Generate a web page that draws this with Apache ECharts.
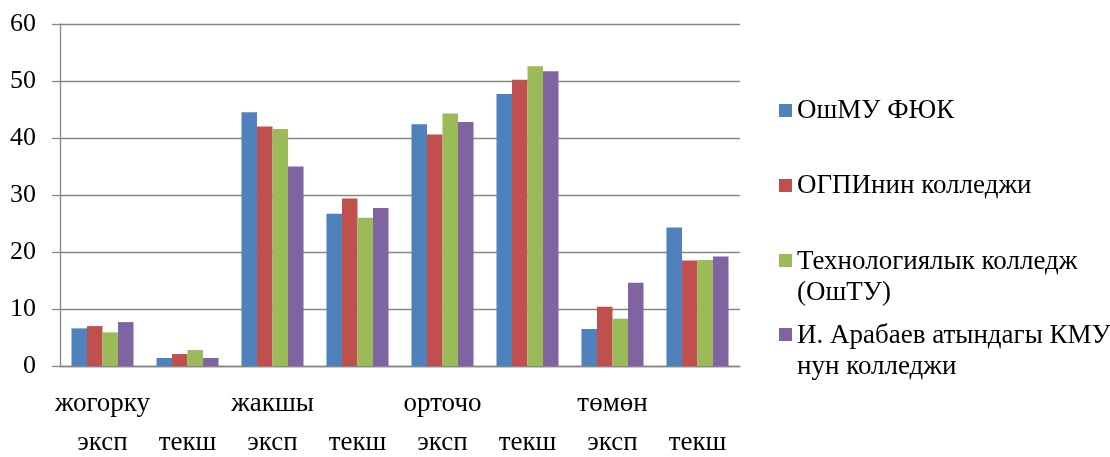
<!DOCTYPE html>
<html>
<head>
<meta charset="utf-8">
<script src="https://cdn.jsdelivr.net/npm/echarts@6/dist/echarts.min.js"></script>
<style>
html,body{margin:0;padding:0;background:#fff;}
#chart{width:1110px;height:457px;}
</style>
</head>
<body>
<div id="chart"></div>
<script>
const categories = ['эксп','текш','эксп','текш','эксп','текш','эксп','текш'];
const groupLabels = ['жогорку','','жакшы','','орточо','','төмөн',''];
const seriesNames = ['ОшМУ ФЮК','ОГПИнин колледжи','Технологиялык колледж\n(ОшТУ)','И. Арабаев атындагы КМУ\nнун колледжи'];
const oshmu = [6.6, 1.4, 44.5, 26.7, 42.4, 47.7, 6.5, 24.3];
const ogpi = [7.0, 2.1, 42.0, 29.4, 40.6, 50.2, 10.4, 18.5];
const tech = [5.9, 2.8, 41.6, 26.0, 44.3, 52.6, 8.3, 18.6];
const arabaev = [7.7, 1.4, 35.0, 27.7, 42.8, 51.7, 14.6, 19.2];
const yTicks = [0, 10, 20, 30, 40, 50, 60];

const colors = ['#4F81BD','#C0504D','#9BBB59','#8064A2'];
const font = 'Liberation Serif, Times New Roman, serif';
const values = [oshmu, ogpi, tech, arabaev];

const chart = echarts.init(document.getElementById('chart'), null, {renderer:'canvas'});

const legendTops = [90, 165, 241, 315];
const twoLineIcon = 'path://M0,0h13v13h-13z M0,46h0.01v0.01h-0.01z';
const legends = seriesNames.map((n, i) => ({
  orient: 'vertical',
  left: 774,
  top: legendTops[i],
  itemWidth: 13,
  itemHeight: n.indexOf('\n') >= 0 ? 46 : 13,
  itemGap: 0,
  data: [{name: n, icon: n.indexOf('\n') >= 0 ? twoLineIcon : 'rect'}],
  textStyle: {fontFamily: font, fontSize: 27, color: '#000', lineHeight: 31, padding: [0,0,0,0]},
  selectedMode: false
}));

chart.setOption({
  animation: false,
  color: colors,
  grid: {left: 60, right: 370, top: 24, bottom: 91, containLabel: false},
  legend: legends,
  xAxis: [
    {
      type: 'category',
      data: categories,
      axisLine: {show: true, lineStyle: {color: '#868686', width: 1.3}},
      axisTick: {show: false},
      axisLabel: {fontFamily: font, fontSize: 27, color: '#000', margin: 63, interval: 0}
    },
    {
      type: 'category',
      data: groupLabels,
      position: 'bottom',
      axisLine: {show: false},
      axisTick: {show: false},
      axisLabel: {fontFamily: font, fontSize: 27, color: '#000', margin: 24, interval: 0}
    }
  ],
  yAxis: {
    type: 'value',
    min: yTicks[0],
    max: yTicks[yTicks.length - 1],
    interval: 10,
    axisLine: {show: true, lineStyle: {color: '#868686', width: 1.3}},
    axisTick: {show: true, length: 8, lineStyle: {color: '#868686', width: 1.3}},
    splitLine: {show: true, lineStyle: {color: '#868686', width: 1.3}},
    axisLabel: {fontFamily: font, fontSize: 26, color: '#000', margin: 24}
  },
  series: seriesNames.map((n, i) => ({
    name: n,
    type: 'bar',
    data: values[i],
    barGap: '0%',
    barCategoryGap: '27%',
    itemStyle: {color: colors[i]}
  }))
});
</script>
</body>
</html>
